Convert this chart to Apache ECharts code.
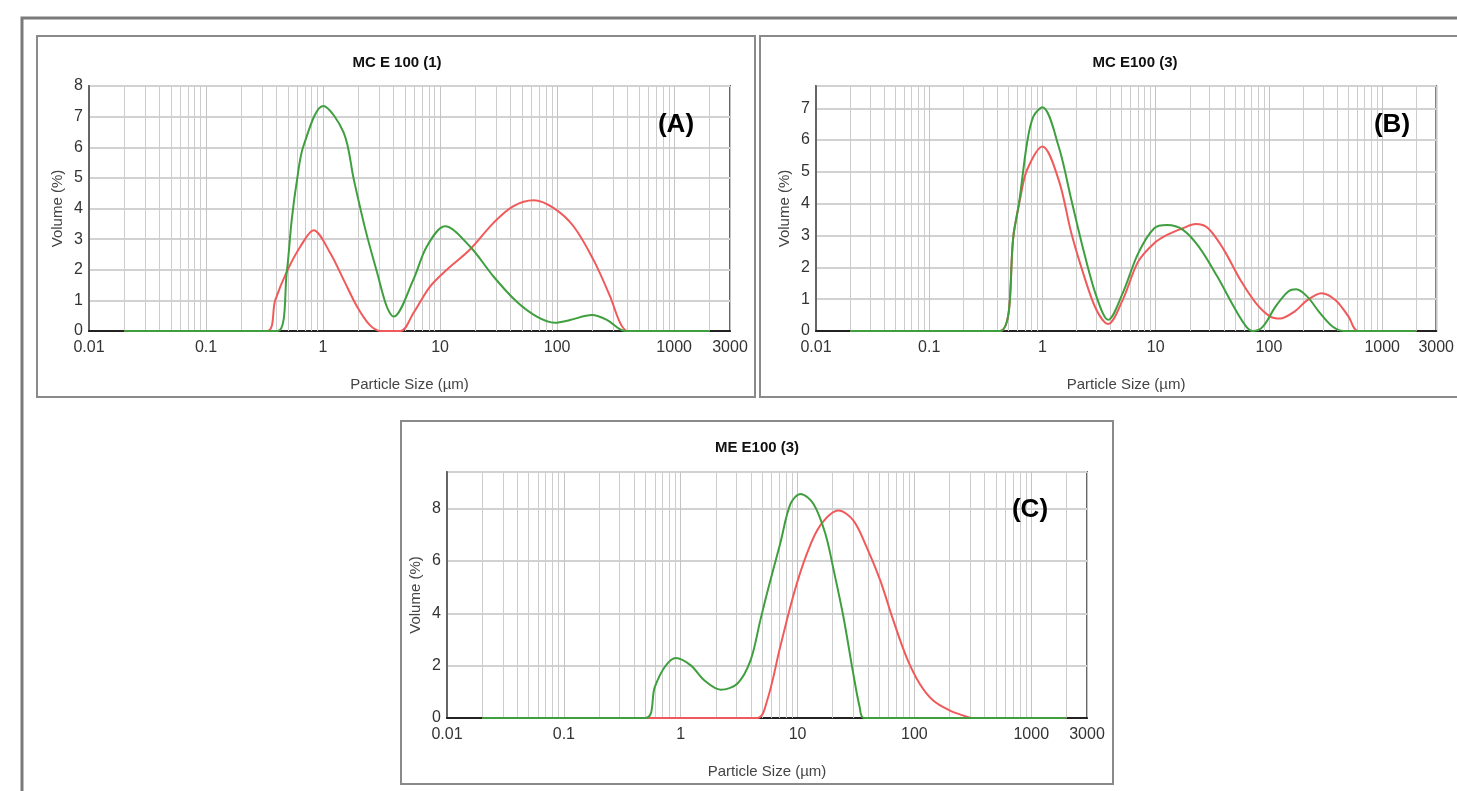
<!DOCTYPE html>
<html>
<head>
<meta charset="utf-8">
<title>Particle size distribution</title>
<script src="https://cdn.jsdelivr.net/npm/echarts@6/dist/echarts.min.js"></script>
<style>
    html, body { margin: 0; padding: 0; background: #fff; }
    #chart { width: 1457px; height: 791px; }
</style>
</head>
<body>
<div id="chart"></div>
<script>
    // (A) MC E 100 (1): particle size (µm) and volume (%)
    const sizeRedA = [0.02, 0.33, 0.39, 0.49, 0.64, 0.83, 1.15, 1.5, 1.95, 2.5, 3.1, 4.6, 5.9, 8.2, 11.4, 18, 28.6,
        42, 63, 93, 138, 204, 284, 347, 400, 2000]
    const volRedA = [0, 0, 1.0, 1.94, 2.76, 3.29, 2.55, 1.67, 0.8, 0.2, 0, 0, 0.58, 1.45, 2.0, 2.66, 3.53,
        4.07, 4.27, 4.02, 3.42, 2.33, 1.12, 0.25, 0, 0]
    const sizeGreenA = [0.02, 0.41, 0.49, 0.54, 0.6, 0.68, 1.0, 1.5, 1.83, 2.3, 2.9, 3.5, 4.0, 5.9, 7.7, 11, 18, 28.6,
        45, 67, 96, 129, 198, 266, 346, 380, 2000]
    const volGreenA = [0, 0, 1.94, 3.64, 4.95, 6.04, 7.35, 6.48, 4.95, 3.31, 1.9, 0.8, 0.47, 1.67, 2.76, 3.42, 2.76,
        1.78, 0.96, 0.47, 0.27, 0.36, 0.52, 0.36, 0.05, 0, 0]

    // (B) MC E100 (3)
    const sizeRedB = [0.02, 0.42, 0.56, 0.64, 0.73, 1.0, 1.39, 1.8, 2.34, 3.0, 3.8, 5.1, 7.0, 9.7, 12.6, 17.4, 22.5,
        29, 40, 56, 77, 103, 125, 168, 218, 291, 388, 505, 615, 2000]
    const volRedB = [0, 0, 3.12, 4.22, 5.06, 5.8, 4.75, 3.07, 1.71, 0.66, 0.22, 0.97, 2.18, 2.76, 3.02, 3.23, 3.36,
        3.23, 2.55, 1.6, 0.87, 0.45, 0.39, 0.61, 0.97, 1.19, 0.97, 0.45, 0, 0]
    const sizeGreenB = [0.02, 0.42, 0.56, 0.62, 0.73, 0.83, 1.0, 1.39, 1.8, 2.34, 3.0, 3.8, 5.1, 7.0, 9.7, 12.6, 17.4,
        24, 35, 49, 63, 72, 88, 114, 148, 174, 218, 283, 364, 455, 2000]
    const volGreenB = [0, 0, 3.12, 4.0, 5.9, 6.74, 7.03, 5.8, 4.12, 2.44, 1.08, 0.35, 1.18, 2.44, 3.23, 3.33, 3.18,
        2.65, 1.71, 0.76, 0.14, 0, 0.13, 0.76, 1.24, 1.31, 1.08, 0.56, 0.14, 0, 0]

    // (C) ME E100 (3)
    const sizeRedC = [0.02, 4.5, 5.5, 7.1, 9.3, 12, 15.6, 22.4, 30, 39, 51, 66, 85.5, 111, 144, 200, 259, 311, 2000]
    const volRedC = [0, 0, 0.68, 2.71, 4.75, 6.27, 7.35, 7.93, 7.55, 6.53, 5.26, 3.73, 2.33, 1.31, 0.68, 0.29, 0.1, 0, 0]
    const sizeGreenC = [0.02, 0.5, 0.6, 0.73, 0.91, 1.22, 1.59, 2.2, 3.05, 3.96, 4.8, 5.5, 7.1, 8.7, 10.6, 13.7, 17.3,
        20.4, 24.7, 30, 34, 37, 2000]
    const volGreenC = [0, 0, 1.18, 1.95, 2.29, 2.01, 1.44, 1.08, 1.31, 2.2, 3.73, 4.8, 6.66, 8.18, 8.56, 8.18, 7.04,
        5.64, 3.86, 1.69, 0.42, 0, 0]

    const titles = ['MC E 100 (1)', 'MC E100 (3)', 'ME E100 (3)']
    const tags = ['(A)', '(B)', '(C)']
    const yMax = [8, 7.7, 9.4]
    const yStep = [1, 1, 2]

    // vertical minor grid lines at 2..9 x each decade
    const minorLines = []
    for (const d of [0.01, 0.1, 1, 10, 100, 1000]) {
        for (let m = 2; m <= 9; m++) {
            const v = Math.round(m * d * 1000) / 1000
            if (v < 3000) minorLines.push({xAxis: v})
        }
    }

    const narrow = '"Liberation Sans Narrow", "Arial Narrow", "Liberation Sans", sans-serif'
    const grids = [
        {left: 89, top: 86, width: 641, height: 245},
        {left: 816, top: 86, width: 638, height: 245},
        {left: 447, top: 472, width: 640, height: 246}
    ]
    const boxes = [
        {x: 37, y: 36, width: 718, height: 361},
        {x: 760, y: 36, width: 712, height: 361},
        {x: 401, y: 421, width: 712, height: 363}
    ]
    const titlePos = [[397, 63], [1135, 63], [757, 448]]
    const tagPos = [[676, 125], [1392, 125], [1030, 510]]

    function curve(xs, ys, color, i, withGrid) {
        const s = {
            type: 'line', xAxisIndex: i, yAxisIndex: i,
            data: xs.map((x, k) => [x, ys[k]]),
            smooth: 0.33, symbol: 'none', z: 6, silent: true,
            lineStyle: {color: color, width: 2}, itemStyle: {color: color}
        }
        if (withGrid) {
            s.markLine = {
                silent: true, symbol: 'none', z: 1, animation: false,
                label: {show: false},
                lineStyle: {color: '#cdcdcd', width: 1, type: 'solid'},
                emphasis: {disabled: true},
                data: minorLines
            }
        }
        return s
    }

    const myChart = echarts.init(document.getElementById('chart'))
    myChart.setOption({
        animation: false,
        grid: grids.map(g => Object.assign({show: true, borderColor: '#666', borderWidth: 2}, g)),
        xAxis: grids.map((g, i) => ({
            type: 'log', logBase: 10, gridIndex: i, min: 0.01, max: 3000,
            name: 'Particle Size (µm)', nameLocation: 'middle', nameGap: 46,
            nameTextStyle: {color: '#444', fontSize: 15, fontFamily: narrow},
            axisLine: {show: true, onZero: false, lineStyle: {color: '#222', width: 2}},
            axisTick: {show: false},
            axisLabel: {
                color: '#333', fontSize: 16, fontFamily: narrow, margin: 9,
                formatter: v => String(Math.round(v * 1000) / 1000)
            },
            splitLine: {show: true, lineStyle: {color: '#c4c4c4', width: 1}}
        })),
        yAxis: grids.map((g, i) => ({
            type: 'value', gridIndex: i, min: 0, max: yMax[i], interval: yStep[i],
            name: 'Volume (%)', nameLocation: 'middle', nameGap: 24, nameRotate: 90,
            nameTextStyle: {color: '#444', fontSize: 15, fontFamily: narrow},
            axisLine: {show: true, lineStyle: {color: '#666', width: 2}},
            axisTick: {show: false},
            axisLabel: {
                color: '#333', fontSize: 16, fontFamily: narrow, margin: 6,
                showMaxLabel: i === 0
            },
            splitLine: {show: true, lineStyle: {color: '#d2d2d2', width: 2}}
        })),
        series: [
            curve(sizeRedA, volRedA, '#f05a5a', 0, true), curve(sizeGreenA, volGreenA, '#3f9f3f', 0, false),
            curve(sizeRedB, volRedB, '#f05a5a', 1, true), curve(sizeGreenB, volGreenB, '#3f9f3f', 1, false),
            curve(sizeRedC, volRedC, '#f05a5a', 2, true), curve(sizeGreenC, volGreenC, '#3f9f3f', 2, false)
        ],
        graphic: [
            {
                type: 'polyline', silent: true,
                shape: {points: [[22, 791], [22, 18], [1457, 18]]},
                style: {stroke: '#7a7a7a', lineWidth: 3, fill: null}
            },
            ...boxes.map(b => ({
                type: 'rect', silent: true, shape: b,
                style: {stroke: '#8a8a8a', lineWidth: 2, fill: null}
            })),
            ...titles.map((t, i) => ({
                type: 'text', silent: true, x: titlePos[i][0], y: titlePos[i][1],
                style: {text: t, font: 'bold 15px ' + narrow, fill: '#111', align: 'center', verticalAlign: 'middle'}
            })),
            ...tags.map((t, i) => ({
                type: 'text', silent: true, x: tagPos[i][0], y: tagPos[i][1], z: 10,
                style: {text: t, font: 'bold 26px "Liberation Sans", Arial, sans-serif', fill: '#000',
                    align: 'center', verticalAlign: 'middle'}
            }))
        ]
    })
</script>
</body>
</html>
